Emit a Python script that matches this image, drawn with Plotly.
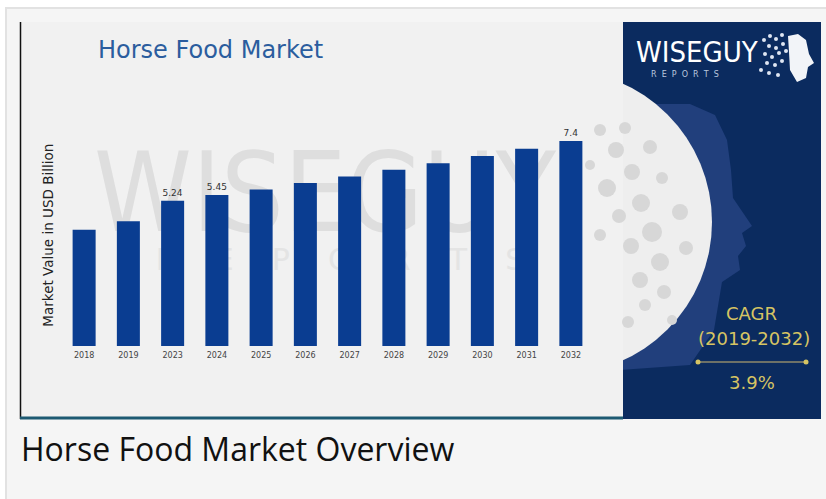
import plotly.graph_objects as go

# ---- data ----
years = ["2018", "2019", "2023", "2024", "2025", "2026", "2027", "2028", "2029", "2030", "2031", "2032"]
values = [4.2, 4.5, 5.24, 5.45, 5.65, 5.88, 6.12, 6.36, 6.6, 6.86, 7.12, 7.4]
labels = ["", "", "5.24", "5.45", "", "", "", "", "", "", "", "7.4"]
title_text = "Horse Food Market"
y_title = "Market Value in USD Billion"
caption = "Horse Food Market Overview"
cagr_period = "(2019-2032)"
cagr_value = "3.9%"

W, H = 826, 499


def px(x):
    return x / W


def py(y):
    return 1 - y / H


NAVY = "#0b2b5f"
GOLD = "#d6c463"
BAR = "#0a3d91"
CHART_BG = "#f1f1f1"

fig = go.Figure()
fig.add_trace(go.Bar(
    x=years, y=values, text=labels, textposition="outside",
    textfont=dict(family="DejaVu Sans", size=9, color="#333333"),
    marker=dict(color=BAR, line=dict(width=0)),
    cliponaxis=False, hoverinfo="skip",
))


def rect(x0, x1, y0, y1, color, layer="below", **kw):
    d = dict(type="rect", xref="paper", yref="paper", x0=px(x0), x1=px(x1), y0=py(y1), y1=py(y0),
             fillcolor=color, line=dict(width=0), layer=layer)
    d.update(kw)
    return d


def circ(cx, cy, r, color, layer="below"):
    return dict(type="circle", xref="paper", yref="paper", layer=layer,
                x0=px(cx - r), x1=px(cx + r), y0=py(cy + r), y1=py(cy - r),
                fillcolor=color, line=dict(width=0))


def path(points, color, layer="below"):
    s = "M " + " L ".join("{} {}".format(px(a), py(b)) for a, b in points) + " Z"
    return dict(type="path", xref="paper", yref="paper", path=s, fillcolor=color,
                line=dict(width=0), layer=layer)


shapes = []
# outer page box
shapes.append(dict(type="rect", xref="paper", yref="paper", x0=px(6), x1=px(W + 5), y0=py(H + 5), y1=py(8),
                   fillcolor="#f5f5f5", line=dict(color="#e2e2e2", width=2), layer="below"))
# navy panel
shapes.append(rect(623, 821, 22, 419, NAVY))
# head silhouette
shapes.append(path([(650, 104), (690, 104), (715, 115), (727, 140), (731, 170), (733, 198), (752, 226),
                    (742, 233), (746, 246), (738, 256), (740, 270), (722, 282), (714, 330), (690, 365),
                    (620, 370)], "#213f7c"))
# moon circle
shapes.append(circ(560, 222, 152, "#eeeeee"))
# chart image background (covers the left part of the circle)
shapes.append(rect(20, 623, 22, 419, CHART_BG))
# gray dots (logo watermark pattern)
dots = [(600, 130, 6), (616, 150, 8), (590, 165, 5), (632, 172, 8), (607, 188, 9), (641, 203, 9),
        (619, 216, 7), (652, 232, 10), (631, 246, 8), (660, 262, 9), (640, 280, 8), (664, 292, 7),
        (645, 305, 6), (600, 235, 6), (625, 128, 6), (650, 147, 7), (662, 178, 6),
        (680, 212, 8), (686, 248, 7), (672, 320, 5), (628, 322, 6)]
for (dx, dy, dr) in dots:
    shapes.append(circ(dx, dy, dr, "#d7d7d7"))
# left dark line of the chart image
shapes.append(dict(type="line", xref="paper", yref="paper", x0=px(20.5), x1=px(20.5), y0=py(419), y1=py(22),
                   line=dict(color="#111111", width=1.5), layer="below"))
# bottom teal line
shapes.append(dict(type="line", xref="paper", yref="paper", x0=px(20), x1=px(623), y0=py(418), y1=py(418),
                   line=dict(color="#1d5a72", width=3), layer="below"))
# watermark text
shapes.append(dict(type="rect", xref="paper", yref="paper", x0=px(75), x1=px(575), y0=py(235), y1=py(135),
                   fillcolor="rgba(0,0,0,0)", line=dict(width=0), layer="below",
                   label=dict(text="WISEGUY",
                              font=dict(family="DejaVu Sans Condensed, DejaVu Sans", size=110, color="#dedede"),
                              textposition="middle center")))
shapes.append(dict(type="rect", xref="paper", yref="paper", x0=px(120), x1=px(560), y0=py(275), y1=py(240),
                   fillcolor="rgba(0,0,0,0)", line=dict(width=0), layer="below",
                   label=dict(text="R    E    P    O    R    T    S",
                              font=dict(family="DejaVu Sans", size=30, color="#e4e4e4"),
                              textposition="middle center")))
# CAGR line with dots
shapes.append(dict(type="line", xref="paper", yref="paper", x0=px(698), x1=px(806), y0=py(362), y1=py(362),
                   line=dict(color="#8f8a6a", width=1.5)))
for xx in (698, 806):
    shapes.append(circ(xx, 362, 2.5, GOLD, layer="above"))
# logo dots and head
logo_dots = [(764, 40), (770, 36), (776, 39), (782, 35), (769, 46), (776, 48), (783, 44), (765, 54),
             (772, 57), (779, 53), (786, 51), (767, 63), (775, 65), (782, 61), (761, 70), (769, 73), (778, 75)]
for (dx, dy) in logo_dots:
    shapes.append(circ(dx, dy, 2, "#dfe6f2", layer="above"))
shapes.append(path([(788, 36), (798, 34), (806, 40), (809, 54), (814, 63), (808, 67), (806, 78),
                    (797, 82), (790, 70), (789, 52)], "#f2f4f8", layer="above"))

annotations = [
    dict(text=title_text, x=px(96), y=py(50), xref="paper", yref="paper", xanchor="left", yanchor="middle",
         showarrow=False, font=dict(family="DejaVu Sans", size=24, color="#2b5d9e")),
    dict(text=caption, x=px(19), y=py(448), xref="paper", yref="paper", xanchor="left", yanchor="middle",
         showarrow=False, font=dict(family="Open Sans", size=32, color="#111111")),
    dict(text="WISEGUY", x=px(634), y=py(52), xref="paper", yref="paper", xanchor="left", yanchor="middle",
         showarrow=False, font=dict(family="DejaVu Sans Condensed, DejaVu Sans", size=29, color="#ffffff")),
    dict(text="R  E  P  O  R  T  S", x=px(649), y=py(74), xref="paper", yref="paper", xanchor="left",
         yanchor="middle", showarrow=False, font=dict(family="DejaVu Sans", size=8, color="#b9c6dd")),
    dict(text="CAGR", x=px(751), y=py(313), xref="paper", yref="paper", xanchor="center", yanchor="middle",
         showarrow=False, font=dict(family="DejaVu Sans", size=18, color=GOLD)),
    dict(text=cagr_period, x=px(754), y=py(338), xref="paper", yref="paper", xanchor="center", yanchor="middle",
         showarrow=False, font=dict(family="DejaVu Sans", size=18, color=GOLD)),
    dict(text=cagr_value, x=px(752), y=py(382), xref="paper", yref="paper", xanchor="center", yanchor="middle",
         showarrow=False, font=dict(family="DejaVu Sans", size=18, color=GOLD)),
]

y_bottom, per_unit = 346, 27.7
y_max = 8.0
fig.update_layout(
    width=W, height=H, margin=dict(l=0, r=0, t=0, b=0),
    paper_bgcolor="#ffffff", plot_bgcolor="rgba(0,0,0,0)",
    showlegend=False, bargap=0.48,
    shapes=shapes, annotations=annotations,
    xaxis=dict(domain=[px(62), px(593)], type="category", showgrid=False, zeroline=False,
               showline=False, ticks="", tickfont=dict(family="DejaVu Sans", size=8, color="#444444"),
               ticklabelstandoff=3),
    yaxis=dict(domain=[py(y_bottom), py(y_bottom - y_max * per_unit)], range=[0, y_max],
               showgrid=False, zeroline=False, showline=False, showticklabels=False, ticks="",
               title=dict(text=y_title, font=dict(family="DejaVu Sans", size=13.5, color="#222222"), standoff=4)),
)

fig.write_html("out.html")
